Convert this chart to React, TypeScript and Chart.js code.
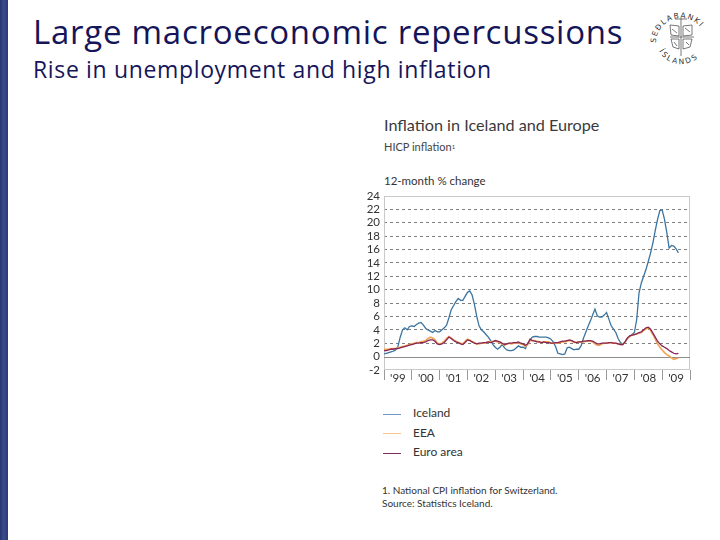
import React, { useEffect, useRef } from "react";
import { Chart, registerables } from "chart.js";

Chart.register(...registerables);

// ---- data (monthly, Jan 1999 = index 0) ----
const yearLabels = ["'99", "'00", "'01", "'02", "'03", "'04", "'05", "'06", "'07", "'08", "'09"];

const icelandValues = [
  0.4, 0.5, 0.6, 0.7, 0.8, 1.0, 1.5, 2.9, 4.0, 4.3, 4.0, 4.5,
  4.6, 4.5, 4.8, 5.0, 5.1, 4.7, 4.2, 4.0, 3.8, 3.6, 3.9, 3.7,
  3.7, 4.0, 4.3, 4.7, 5.8, 7.0, 7.6, 8.2, 8.7, 8.4, 8.4, 9.0,
  9.6, 9.8, 9.2, 7.8, 6.0, 4.6, 4.0, 3.7, 3.3, 2.9, 2.4, 1.8,
  1.4, 1.1, 1.4, 1.8, 1.3, 1.0, 0.9, 0.9, 1.0, 1.3, 1.6, 1.4,
  1.4, 1.2, 2.0, 2.5, 2.9, 3.0, 3.0, 2.9, 2.9, 2.9, 2.9, 2.8,
  2.6, 2.2, 1.5, 0.5, 0.4, 0.3, 0.4, 1.3, 1.4, 1.2, 1.0, 1.1,
  1.1, 1.6, 2.7, 3.6, 4.5, 5.3, 6.2, 7.1, 6.1, 5.9, 5.9, 6.2,
  6.6, 5.6, 4.6, 4.1, 3.6, 2.7, 2.1, 1.8, 2.2, 2.7, 3.0, 3.3,
  3.6, 5.5, 9.5, 11.0, 12.0, 13.0, 14.2, 15.5, 17.0, 18.8, 20.5, 21.8,
  21.9, 20.5, 18.5, 16.2, 16.6, 16.5, 16.1, 15.5,
];

const eeaValues = [
  1.1, 1.1, 1.1, 1.2, 1.2, 1.2, 1.3, 1.4, 1.5, 1.6, 1.7, 1.8,
  1.9, 2.0, 2.1, 2.1, 2.2, 2.3, 2.4, 2.7, 2.9, 2.8, 2.5, 2.0,
  1.9, 2.0, 2.3, 2.7, 3.0, 2.8, 2.5, 2.3, 2.1, 2.0, 1.9, 2.3,
  2.6, 2.5, 2.2, 2.1, 1.9, 1.9, 2.0, 2.0, 2.1, 2.2, 2.2, 2.3,
  2.3, 2.2, 2.1, 1.9, 1.7, 1.9, 2.0, 1.9, 2.0, 2.0, 2.1, 1.9,
  1.8, 1.5, 1.8, 2.4, 2.4, 2.4, 2.3, 2.2, 2.1, 2.2, 2.2, 2.2,
  2.0, 2.0, 2.0, 2.0, 2.1, 2.2, 2.2, 2.3, 2.4, 2.3, 2.1, 2.1,
  2.2, 2.2, 2.2, 2.3, 2.3, 2.3, 2.2, 1.9, 1.7, 1.7, 1.9, 2.0,
  2.0, 2.0, 2.1, 2.0, 2.0, 1.9, 1.8, 1.8, 2.2, 2.7, 3.0, 3.2,
  3.3, 3.4, 3.5, 3.6, 3.9, 4.1, 4.3, 3.9, 3.3, 2.6, 1.9, 1.4,
  1.0, 0.6, 0.3, 0.1, -0.2, -0.4, -0.3, -0.2,
];

const euroValues = [
  0.9, 0.9, 1.0, 1.1, 1.1, 1.2, 1.2, 1.3, 1.4, 1.5, 1.6, 1.7,
  1.8, 1.9, 2.0, 2.0, 2.1, 2.1, 2.2, 2.4, 2.5, 2.5, 2.3, 1.9,
  1.8, 1.9, 2.1, 2.5, 2.9, 2.7, 2.4, 2.2, 2.1, 1.9, 1.8, 2.1,
  2.5, 2.4, 2.2, 2.0, 1.9, 2.0, 2.0, 2.1, 2.1, 2.2, 2.1, 2.2,
  2.4, 2.3, 2.2, 2.0, 1.8, 1.9, 2.0, 2.0, 2.1, 2.1, 2.2, 2.0,
  1.9, 1.7, 1.9, 2.6, 2.4, 2.3, 2.2, 2.2, 2.1, 2.2, 2.1, 2.1,
  2.0, 2.0, 2.1, 2.1, 2.2, 2.3, 2.3, 2.4, 2.5, 2.4, 2.2, 2.1,
  2.2, 2.2, 2.3, 2.3, 2.4, 2.4, 2.3, 2.1, 1.9, 1.9, 2.0, 2.0,
  2.0, 2.1, 2.1, 2.0, 2.0, 1.9, 1.8, 1.8, 2.2, 2.8, 3.1, 3.2,
  3.3, 3.4, 3.6, 3.7, 4.0, 4.3, 4.4, 4.1, 3.5, 2.9, 2.3, 1.9,
  1.6, 1.4, 1.2, 0.9, 0.7, 0.5, 0.4, 0.5,
];

const seriesNames = ["Iceland", "EEA", "Euro area"];
const seriesColors = ["#3c74a0", "#f2a455", "#862456"];
const legendColors = ["#6f95bf", "#f4c690", "#7b2d5d"];

const yMin = -2;
const yMax = 24;
const yStep = 2;
const monthsTotal = yearLabels.length * 12;

const FONT = "Lato, 'Open Sans', sans-serif";

const toPoints = (arr: number[]) => arr.map((v, i) => ({ x: i, y: v }));

const framePlugin = {
  id: "frame",
  beforeDatasetsDraw(chart: any) {
    const { ctx, chartArea: a, scales } = chart;
    const y0 = Math.round(scales.y.getPixelForValue(0)) + 0.5;
    ctx.save();
    ctx.lineWidth = 1;
    ctx.strokeStyle = "#c9c9c9";
    ctx.strokeRect(Math.round(a.left) + 0.5, Math.round(a.top) + 0.5, Math.round(a.width) - 1, Math.round(a.height) - 1);
    ctx.strokeStyle = "#8c8c8c";
    ctx.beginPath();
    ctx.moveTo(a.left, y0);
    ctx.lineTo(a.right, y0);
    ctx.stroke();
    ctx.restore();
  },
};

function InflationChart() {
  const ref = useRef<HTMLCanvasElement | null>(null);
  useEffect(() => {
    if (!ref.current) return;
    const series = [icelandValues, eeaValues, euroValues];
    const order = [2, 1, 0];
    const chart = new Chart(ref.current, {
      type: "line",
      data: {
        datasets: series.map((s, i) => ({
          label: seriesNames[i],
          data: toPoints(s),
          borderColor: seriesColors[i],
          backgroundColor: seriesColors[i],
          borderWidth: i === 1 ? 1.6 : 1.3,
          pointRadius: 0,
          tension: 0,
          fill: false,
          order: order[i],
        })),
      },
      options: {
        responsive: false,
        animation: false,
        devicePixelRatio: 1,
        layout: { padding: { top: 9, right: 2, left: 0, bottom: 0 } },
        plugins: { legend: { display: false }, tooltip: { enabled: false }, title: { display: false } },
        scales: {
          x: {
            type: "linear",
            min: 0,
            max: monthsTotal,
            afterBuildTicks: (scale: any) => {
              const t = [];
              for (let v = 0; v <= monthsTotal; v += 6) t.push({ value: v });
              scale.ticks = t;
            },
            afterFit: (scale: any) => {
              scale.height = 20;
            },
            border: { display: false },
            grid: {
              drawOnChartArea: false,
              drawTicks: true,
              tickLength: 10,
              color: (ctx: any) => (ctx.tick && ctx.tick.value % 12 === 0 ? "#9a9a9a" : "rgba(0,0,0,0)"),
              lineWidth: 1,
            },
            ticks: {
              autoSkip: false,
              maxRotation: 0,
              minRotation: 0,
              padding: -9,
              color: "#333",
              font: { family: FONT, size: 11.5 },
              callback: (v: any) => {
                const n = Number(v);
                return n % 12 === 6 ? yearLabels[(n - 6) / 12] : "";
              },
            },
          },
          y: {
            min: yMin,
            max: yMax,
            afterFit: (scale: any) => {
              scale.width = 24;
            },
            border: { display: false, dash: [3, 3] },
            grid: {
              drawTicks: false,
              lineWidth: 1,
              color: (ctx: any) =>
                ctx.tick && (ctx.tick.value === 0 || ctx.tick.value === yMax || ctx.tick.value === yMin)
                  ? "rgba(0,0,0,0)"
                  : "#808080",
            },
            ticks: {
              stepSize: yStep,
              autoSkip: false,
              padding: 4,
              color: "#333",
              font: { family: FONT, size: 11.5 },
            },
          },
        },
      },
      plugins: [framePlugin],
    });
    return () => chart.destroy();
  }, []);
  return (
    <canvas
      ref={ref}
      width={332}
      height={205}
      style={{ position: "absolute", left: 360, top: 185, width: 332, height: 205 }}
    />
  );
}

function Logo() {
  const cx = 681;
  const cy = 37;
  return (
    <svg width={70} height={74} style={{ position: "absolute", left: cx - 35, top: cy - 37 }} viewBox="0 0 70 74">
      <defs>
        <path id="topArc" d="M 10 43 A 25 25 0 1 1 60 43" />
        <path id="botArc" d="M 13 51 A 25 25 0 0 0 57 51" />
      </defs>
      <text fontFamily="DejaVu Sans, sans-serif" fontSize="7.5" fill="#333" letterSpacing="1.4">
        <textPath href="#topArc">SEÐLABANKI</textPath>
      </text>
      <text fontFamily="DejaVu Sans, sans-serif" fontSize="7.5" fill="#333" letterSpacing="2">
        <textPath href="#botArc">ÍSLANDS</textPath>
      </text>
      <g stroke="#555" strokeWidth="0.8" fill="none">
        <line x1="24" y1="37" x2="48" y2="37" />
        <line x1="35" y1="18" x2="35" y2="56" />
        <line x1="29" y1="19" x2="41" y2="19" />
        <path d="M 24 25 L 33 26 L 33 36 L 25 35 Z" />
        <path d="M 37 26 L 46 25 L 46 35 L 37 36 Z" />
        <path d="M 25 39 L 33 39 L 33 49 L 27 47 Z" />
        <path d="M 37 39 L 46 39 L 44 47 L 37 49 Z" />
        <path d="M 26 29 L 31 33 M 39 28 L 44 32 M 28 42 L 31 46 M 40 42 L 43 45" />
      </g>
    </svg>
  );
}

export default function App() {
  useEffect(() => {
    document.body.style.margin = "0";
  }, []);
  const legendTop = [414, 433.5, 453];
  return (
    <div style={{ position: "absolute", left: 0, top: 0, width: 720, height: 540, background: "#fff", overflow: "hidden" }}>
      <div
        style={{
          position: "absolute",
          left: 0,
          top: 0,
          width: 8,
          height: 540,
          background: "linear-gradient(90deg, #26346e 0%, #3a4a8c 45%, #2b3978 100%)",
        }}
      />
      <div
        style={{
          position: "absolute",
          left: 33,
          top: 14.7,
          fontFamily: "'Open Sans', sans-serif",
          fontSize: 33,
          lineHeight: "33px",
          letterSpacing: 0.75,
          color: "#15155a",
          whiteSpace: "nowrap",
        }}
      >
        Large macroeconomic repercussions
      </div>
      <div
        style={{
          position: "absolute",
          left: 33,
          top: 58.1,
          fontFamily: "'Open Sans', sans-serif",
          fontSize: 23,
          lineHeight: "23px",
          letterSpacing: 0.65,
          color: "#15155a",
          whiteSpace: "nowrap",
        }}
      >
        Rise in unemployment and high inflation
      </div>
      <Logo />
      <div
        style={{
          position: "absolute",
          left: 384,
          top: 116.5,
          fontFamily: FONT,
          fontSize: 16.2,
          lineHeight: "16.2px",
          color: "#3a3a3a",
          whiteSpace: "nowrap",
        }}
      >
        Inflation in Iceland and Europe
      </div>
      <div
        style={{
          position: "absolute",
          left: 384,
          top: 141,
          fontFamily: FONT,
          fontSize: 11,
          lineHeight: "11px",
          color: "#444",
          whiteSpace: "nowrap",
        }}
      >
        HICP inflation<sup style={{ fontSize: 6, verticalAlign: "top" }}>1</sup>
      </div>
      <div
        style={{
          position: "absolute",
          left: 384,
          top: 175,
          fontFamily: FONT,
          fontSize: 11.5,
          lineHeight: "11.5px",
          color: "#333",
          whiteSpace: "nowrap",
        }}
      >
        12-month % change
      </div>
      <InflationChart />
      {seriesNames.map((name, i) => (
        <React.Fragment key={name}>
          <div
            style={{
              position: "absolute",
              left: 383,
              top: legendTop[i] - 0.5,
              width: 18,
              height: 1.2,
              background: legendColors[i],
            }}
          />
          <div
            style={{
              position: "absolute",
              left: 413,
              top: legendTop[i] - 7,
              fontFamily: FONT,
              fontSize: 12,
              lineHeight: "12px",
              color: "#333",
              whiteSpace: "nowrap",
            }}
          >
            {name}
          </div>
        </React.Fragment>
      ))}
      <div
        style={{
          position: "absolute",
          left: 382,
          top: 484,
          fontFamily: FONT,
          fontSize: 10,
          lineHeight: "13px",
          color: "#333",
          whiteSpace: "nowrap",
        }}
      >
        1. National CPI inflation for Switzerland.
        <br />
        Source: Statistics Iceland.
      </div>
    </div>
  );
}
